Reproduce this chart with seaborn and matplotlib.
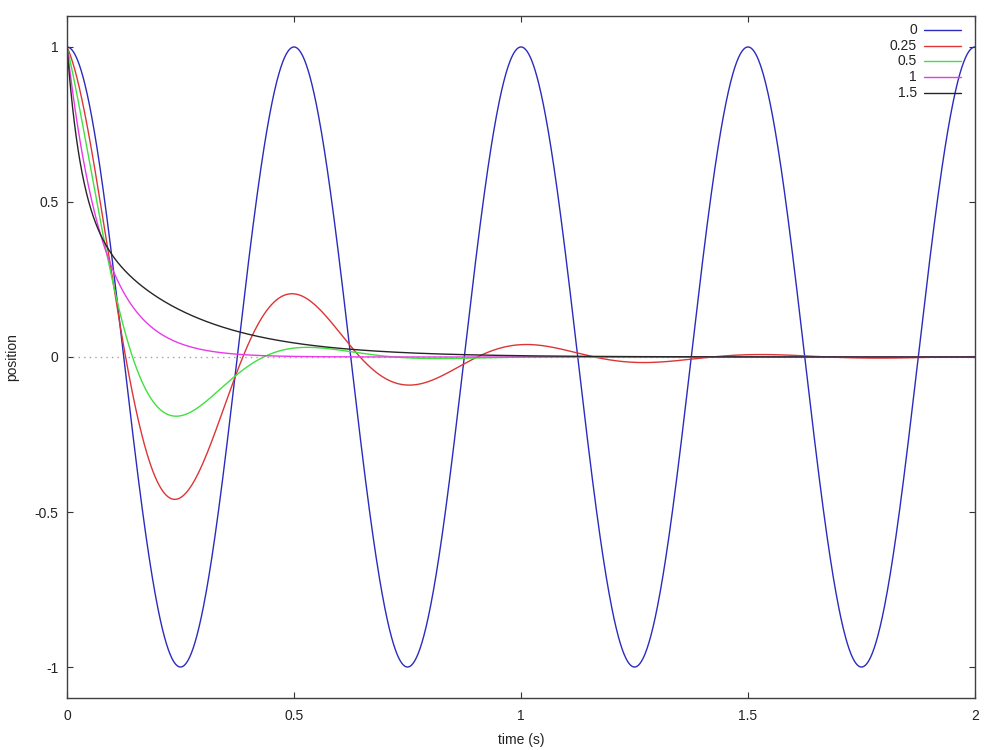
import numpy as np
import pandas as pd
import matplotlib
matplotlib.use("Agg")
import matplotlib.pyplot as plt
import seaborn as sns

# Parameters: damping ratios (legend) and natural frequency (period 0.5 s)
damping_ratios = [0, 0.25, 0.5, 1, 1.5]
damping_labels = ["0", "0.25", "0.5", "1", "1.5"]
natural_freq_hz = 2.0
time_range = [0.0, 2.0]
x_ticks = [0, 0.5, 1, 1.5, 2]
x_tick_labels = ["0", "0.5", "1", "1.5", "2"]
y_ticks = [-1, -0.5, 0, 0.5, 1]
y_tick_labels = ["-1", "-0.5", "0", "0.5", "1"]
colors = ["#2b2bbd", "#dd3535", "#40e040", "#e83ae8", "#262626"]

# Plotted function: x(t) = exp(-z*w*t) * cos(w*sqrt(1-z^2)*t) (cosh branch for z>1)
w = 2 * np.pi * natural_freq_hz
t = np.linspace(time_range[0], time_range[1], 2001)
frames = []
for z, lab in zip(damping_ratios, damping_labels):
    wd = w * np.sqrt(complex(1 - z * z))
    pos = np.real(np.exp(-z * w * t) * np.cos(wd * t))
    frames.append(pd.DataFrame({"time": t, "position": pos, "zeta": lab}))
df = pd.concat(frames, ignore_index=True)

sns.set_style("white")
plt.rcParams["font.family"] = ["Liberation Sans", "DejaVu Sans"]

fig = plt.figure(figsize=(10, 7.5), dpi=100)
ax = fig.add_axes([0.067, 0.0693, 0.908, 0.9094])

ax.axhline(0, color="#a0a0a0", lw=1.0, ls=(0, (1, 3)), zorder=1)
sns.lineplot(data=df, x="time", y="position", hue="zeta", hue_order=damping_labels,
             palette=colors, lw=1.0, ax=ax, legend=False, zorder=2)

ax.set_xlim(0, 2)
ax.set_ylim(-1.1, 1.1)
ax.set_xticks(x_ticks)
ax.set_xticklabels(x_tick_labels)
ax.set_yticks(y_ticks)
ax.set_yticklabels(y_tick_labels)
ax.tick_params(direction="in", length=4.5, width=0.8, top=True, right=True,
               bottom=True, left=True, labelsize=10, colors="#333333",
               labelcolor="#222222")
ax.tick_params(axis="x", pad=8)
ax.tick_params(axis="y", pad=6)
for s in ax.spines.values():
    s.set_color("#404040")
    s.set_linewidth(1.0)
ax.set_xlabel("time (s)", fontsize=10, color="#222222", labelpad=7)
ax.set_ylabel("position", fontsize=10, color="#222222", labelpad=11)

# gnuplot-style legend: right-aligned labels then line sample
for i, (lab, c) in enumerate(zip(damping_labels, colors)):
    y = 0.9795 - i * 0.023
    ax.text(0.936, y, lab, transform=ax.transAxes, ha="right", va="center",
            fontsize=10, color="#222222")
    ax.plot([0.944, 0.9846], [y, y], transform=ax.transAxes, color=c, lw=1.0)

fig.savefig("out.png", dpi=100)
